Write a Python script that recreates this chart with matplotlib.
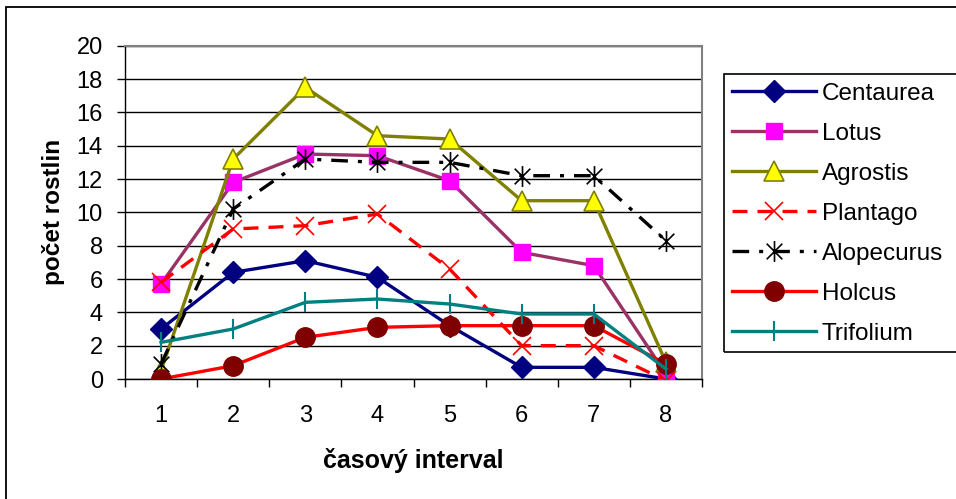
import matplotlib
matplotlib.use("Agg")
import matplotlib.pyplot as plt
from matplotlib.path import Path
from matplotlib.patches import Rectangle
import numpy as np

plt.rcParams['font.family'] = ['Liberation Sans', 'DejaVu Sans']

intervals = [1, 2, 3, 4, 5, 6, 7, 8]
centaurea = [3.0, 6.4, 7.1, 6.1, 3.2, 0.7, 0.7, 0.0]
lotus = [5.7, 11.8, 13.5, 13.4, 11.9, 7.6, 6.8, 0.3]
agrostis = [0.5, 13.2, 17.5, 14.6, 14.4, 10.7, 10.7, 1.0]
plantago = [5.8, 9.0, 9.2, 9.9, 6.6, 2.0, 2.0, -0.1]
alopecurus = [0.9, 10.2, 13.2, 13.0, 13.0, 12.2, 12.2, 8.3]
holcus = [0.0, 0.8, 2.5, 3.1, 3.2, 3.2, 3.2, 0.9]
trifolium = [2.2, 3.0, 4.6, 4.8, 4.5, 3.9, 3.9, 0.6]

W, H = 956, 499
fig = plt.figure(figsize=(W / 100, H / 100), dpi=100)

# outer chart border
fig.patches.append(Rectangle((6 / W, -0.05), 1.2, 1 - 7 / H + 0.05,
                             transform=fig.transFigure, fill=False,
                             edgecolor='black', linewidth=1.3))

ax = fig.add_axes([125 / W, 120 / H, 577 / W, 333.3 / H])

star = Path([(0, -1), (0, 1), (-0.75, -0.75), (0.75, 0.75), (-0.75, 0.75), (0.75, -0.75)],
            [Path.MOVETO, Path.LINETO, Path.MOVETO, Path.LINETO, Path.MOVETO, Path.LINETO])

lw = 2.4
ax.plot(intervals, centaurea, color='#000080', lw=lw, marker='D', ms=11,
        mfc='#000080', mec='#000080', label='Centaurea', zorder=3)
ax.plot(intervals, lotus, color='#993366', lw=lw, marker='s', ms=11,
        mfc='#FF00FF', mec='#FF00FF', label='Lotus', zorder=3)
ax.plot(intervals, agrostis, color='#808000', lw=lw, marker='^', ms=14,
        mfc='#FFFF00', mec='#808000', mew=1.2, label='Agrostis', zorder=3)
ax.plot(intervals, plantago, color='#FF0000', lw=lw, ls=(0, (4.5, 3)), marker='x', ms=13,
        mfc='#FF0000', mec='#FF0000', mew=1.2, label='Plantago', zorder=3)
ax.plot(intervals, alopecurus, color='black', lw=lw, ls=(0, (5, 3, 1.2, 3)), marker=star, ms=15,
        mec='black', mew=1.2, label='Alopecurus', zorder=3)
ax.plot(intervals, holcus, color='#FF0000', lw=lw, marker='o', ms=14,
        mfc='#800000', mec='#800000', label='Holcus', zorder=3)
ax.plot(intervals, trifolium, color='#008080', lw=lw, marker='|', ms=15,
        mec='#008080', mew=1.5, label='Trifolium', zorder=3)

ax.set_xlim(0.5, 8.5)
ax.set_ylim(0, 20)
ax.set_yticks(np.arange(0, 21, 2))
ax.set_xticks(intervals)
ax.set_xticks(np.arange(0.5, 8.6, 1), minor=True)
ax.tick_params(axis='x', which='major', length=0, pad=19, labelsize=17)
ax.tick_params(axis='x', which='minor', length=6, width=1, direction='out')
ax.tick_params(axis='y', length=6, width=1, direction='out', pad=10, labelsize=17)
ax.grid(axis='y', color='black', lw=1, zorder=0)
ax.set_axisbelow(True)
for s in ['top', 'right']:
    ax.spines[s].set_color('#808080')
    ax.spines[s].set_linewidth(1.5)
for s in ['left', 'bottom']:
    ax.spines[s].set_color('black')
    ax.spines[s].set_linewidth(1)

ax.set_xlabel('časový interval', fontsize=18, fontweight='bold', labelpad=15)
ax.set_ylabel('počet rostlin', fontsize=17.5, fontweight='bold', labelpad=8)

# legend box
fig.patches.append(Rectangle((724 / W, 1 - 352 / H), 0.4, (352 - 74) / H,
                             transform=fig.transFigure, fill=False,
                             edgecolor='black', linewidth=1.2))
fig.legend(loc='upper left', bbox_to_anchor=(727 / W, 1 - 78 / H), frameon=False,
           fontsize=17.5, handlelength=3.45, handletextpad=0.25, labelspacing=0.74,
           borderaxespad=0, borderpad=0.2)

fig.savefig('out.png', dpi=100)
